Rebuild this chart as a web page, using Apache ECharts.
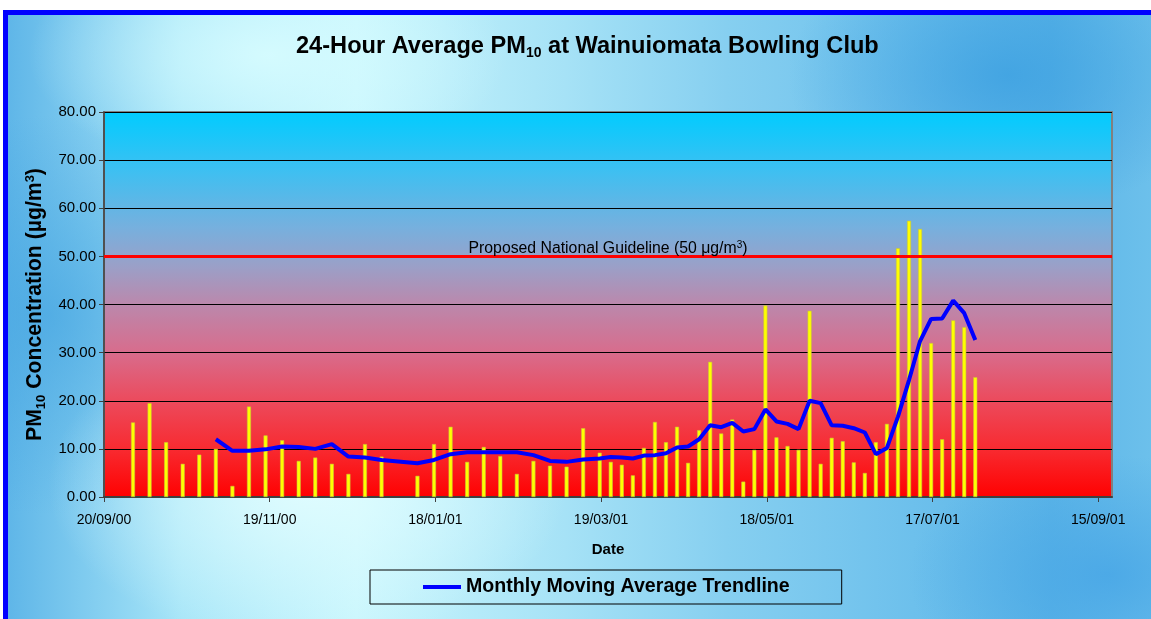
<!DOCTYPE html>
<html>
<head>
<meta charset="utf-8">
<script src="https://cdn.jsdelivr.net/npm/echarts@6/dist/echarts.min.js"></script>
<style>
  html, body { margin: 0; padding: 0; background: #ffffff; overflow: hidden; }
  #frame {
    position: absolute; left: 3px; top: 10px; width: 1160px; height: 620px;
    border-left: 5px solid #0000ff; border-top: 5px solid #0000ff;
    background:
      radial-gradient(ellipse 260px 160px at 300px 470px, rgba(225,253,255,0.95), rgba(225,253,255,0) 100%),
      radial-gradient(ellipse 240px 120px at 260px 40px, rgba(215,252,255,0.9), rgba(215,252,255,0) 100%),
      radial-gradient(ellipse 220px 140px at 1000px 60px, rgba(60,160,225,0.8), rgba(60,160,225,0) 100%),
      radial-gradient(ellipse 200px 200px at 40px 300px, rgba(70,165,225,0.7), rgba(70,165,225,0) 100%),
      radial-gradient(ellipse 200px 120px at 1100px 560px, rgba(70,165,230,0.8), rgba(70,165,230,0) 100%),
      linear-gradient(90deg, #5fb6e8 0%, #a8e6f8 15%, #c9f6fd 30%, #a6e2f6 48%, #86cff0 62%, #6dc0ec 78%, #5cb5e7 90%, #6fc2ec 100%);
  }
  #chart { position: absolute; left: 0; top: 0; width: 1151px; height: 619px; }
</style>
</head>
<body>
<div id="frame"></div>
<div id="chart"></div>
<script>
// ---- data ----
const baseDate = '2000-09-20';
const tickLabels = ['20/09/00', '19/11/00', '18/01/01', '19/03/01', '18/05/01', '17/07/01', '15/09/01'];
const sampleDates = [
  '2000-09-30','2000-10-06','2000-10-12','2000-10-18','2000-10-24','2000-10-30',
  '2000-11-05','2000-11-11','2000-11-17','2000-11-23','2000-11-29','2000-12-05',
  '2000-12-11','2000-12-17','2000-12-23','2000-12-29','2001-01-11','2001-01-17',
  '2001-01-23','2001-01-29','2001-02-04','2001-02-10','2001-02-16','2001-02-22',
  '2001-02-28','2001-03-06','2001-03-12','2001-03-18','2001-03-22','2001-03-26',
  '2001-03-30','2001-04-03','2001-04-07','2001-04-11','2001-04-15','2001-04-19',
  '2001-04-23','2001-04-27','2001-05-01','2001-05-05','2001-05-09','2001-05-13',
  '2001-05-17','2001-05-21','2001-05-25','2001-05-29','2001-06-02','2001-06-06',
  '2001-06-10','2001-06-14','2001-06-18','2001-06-22','2001-06-26','2001-06-30',
  '2001-07-04','2001-07-08','2001-07-12','2001-07-16','2001-07-20','2001-07-24',
  '2001-07-28','2001-08-01'
];
const pm10Values = [
  15.5, 19.5, 11.4, 6.9, 8.8, 10.0,
  2.3, 18.8, 12.8, 11.8, 7.5, 8.2,
  6.9, 4.8, 11.0, 8.4, 4.4, 11.0,
  14.6, 7.3, 10.4, 8.5, 4.8, 7.5,
  6.5, 6.3, 14.3, 9.2, 7.3, 6.7,
  4.5, 10.2, 15.6, 11.4, 14.6, 7.1,
  13.9, 28.1, 13.2, 16.1, 3.2, 9.8,
  39.8, 12.4, 10.6, 9.8, 38.7, 6.9,
  12.3, 11.6, 7.2, 5.0, 11.4, 15.2,
  51.7, 57.4, 55.7, 32.0, 12.0, 36.7,
  35.3, 24.9
];
// monthly moving average (starts at 6th sample: 2000-10-30)
const trendStartIndex = 5;
const trendValues = [
  12.0, 9.6, 9.6, 9.9, 10.5, 10.4, 10.0,
  11.0, 8.4, 8.2, 7.7, 7.0, 7.7,
  8.9, 9.3, 9.3, 9.3, 9.3, 8.7,
  7.5, 7.3, 7.8, 8.0, 8.3, 8.2,
  8.0, 8.6, 8.7, 9.1, 10.3, 10.5,
  12.0, 14.9, 14.5, 15.4, 13.6, 14.1,
  18.2, 15.7, 15.2, 14.1, 20.0, 19.5,
  14.9, 14.8, 14.3, 13.4, 8.9, 10.2,
  16.7, 24.3, 32.4, 37.0, 37.1, 40.8,
  38.2, 32.6
];
const guidelineValue = 50;

// ---- helpers ----
const DAY = 86400000;
const base = Date.parse(baseDate + 'T00:00:00Z');
// Excel date axis: each date sits in the middle of its one-day slot
function dayPos(s) { return (Date.parse(s + 'T00:00:00Z') - base) / DAY + 0.5; }
function fmtTick(v) {
  const i = Math.round(v / 60);
  if (Math.abs(v - i * 60) > 0.01) return '';
  return tickLabels[i] || '';
}
const barData = sampleDates.map((d, i) => [dayPos(d), pm10Values[i]]);
const lineData = trendValues.map((v, i) => [dayPos(sampleDates[trendStartIndex + i]), v]);

const chart = echarts.init(document.getElementById('chart'), null, { renderer: 'canvas' });
const FONT = 'Liberation Sans, Arial, sans-serif';

chart.setOption({
  backgroundColor: 'transparent',
  animation: false,
  textStyle: { fontFamily: FONT },
  title: {
    text: '{a|24-Hour Average PM}{s|10}{a| at Wainuiomata Bowling Club}',
    left: 291, top: 27,
    textStyle: {
      rich: {
        a: { fontFamily: FONT, fontSize: 23.6, fontWeight: 'bold', color: '#000', lineHeight: 28 },
        s: { fontFamily: FONT, fontSize: 14, fontWeight: 'bold', color: '#000', lineHeight: 12, verticalAlign: 'bottom' }
      }
    }
  },
  legend: {
    left: 370, top: 570,
    padding: [7, 52, 7, 53],
    borderColor: '#000', borderWidth: 1,
    icon: 'rect', itemWidth: 38, itemHeight: 4,
    textStyle: { fontFamily: FONT, fontSize: 19.6, fontWeight: 'bold', color: '#000' },
    data: ['Monthly Moving Average Trendline']
  },
  grid: {
    left: 104, right: 39, top: 112, bottom: 122,
    show: true,
    borderColor: '#808080', borderWidth: 2,
    backgroundColor: new echarts.graphic.LinearGradient(0, 0, 0, 1, [
      { offset: 0, color: '#00ccff' },
      { offset: 0.15, color: '#3cc0f2' },
      { offset: 0.3, color: '#76b0de' },
      { offset: 0.4, color: '#9aa0c8' },
      { offset: 0.5, color: '#bb88ac' },
      { offset: 0.625, color: '#d86c8c' },
      { offset: 0.75, color: '#ec4a5c' },
      { offset: 0.875, color: '#f82a30' },
      { offset: 1, color: '#ff0000' }
    ])
  },
  xAxis: {
    type: 'value',
    min: 0, max: 365, interval: 60,
    name: 'Date', nameLocation: 'middle', nameGap: 45,
    nameTextStyle: { fontFamily: FONT, fontSize: 15, fontWeight: 'bold', color: '#000' },
    axisLine: { show: true, lineStyle: { color: '#404040', width: 2 } },
    axisTick: { show: true, length: 5, lineStyle: { color: '#404040' } },
    axisLabel: { formatter: fmtTick, showMaxLabel: false, margin: 16, fontFamily: FONT, fontSize: 14, color: '#000' },
    splitLine: { show: false }
  },
  yAxis: {
    type: 'value',
    min: 0, max: 80, interval: 10,
    name: '{a|PM}{s|10}{a| Concentration (µg/m}{p|3}{a|)}',
    nameLocation: 'middle', nameRotate: 90, nameGap: 53,
    nameTextStyle: {
      rich: {
        a: { fontFamily: FONT, fontSize: 21.2, fontWeight: 'bold', color: '#000', lineHeight: 24 },
        s: { fontFamily: FONT, fontSize: 13, fontWeight: 'bold', color: '#000', lineHeight: 11, verticalAlign: 'bottom' },
        p: { fontFamily: FONT, fontSize: 13, fontWeight: 'bold', color: '#000', lineHeight: 12, verticalAlign: 'top' }
      }
    },
    axisLine: { show: true, lineStyle: { color: '#404040', width: 1.5 } },
    axisTick: { show: true, length: 5, lineStyle: { color: '#404040' } },
    axisLabel: { formatter: v => v.toFixed(2), margin: 8, fontFamily: FONT, fontSize: 15, color: '#000' },
    splitLine: { show: true, lineStyle: { color: '#000', width: 1 } }
  },
  series: [
    {
      name: 'PM10',
      type: 'bar',
      data: barData,
      barWidth: 4,
      itemStyle: { color: '#ffff00', borderColor: '#c8c43c', borderWidth: 0.6 },
      z: 2,
      markLine: {
        silent: true,
        symbol: 'none',
        lineStyle: { color: '#ff0000', width: 3, type: 'solid' },
        label: {
          show: true,
          position: 'insideMiddleTop',
          distance: 0,
          formatter: '{a|Proposed National Guideline (50 μg/m}{p|3}{a|)}',
          rich: {
            a: { fontFamily: FONT, fontSize: 15.8, color: '#000', lineHeight: 16 },
            p: { fontFamily: FONT, fontSize: 10, color: '#000', lineHeight: 8, verticalAlign: 'top' }
          }
        },
        data: [{ yAxis: guidelineValue }]
      }
    },
    {
      name: 'Monthly Moving Average Trendline',
      type: 'line',
      data: lineData,
      showSymbol: false,
      symbol: 'none',
      lineStyle: { color: '#0000ff', width: 4 },
      itemStyle: { color: '#0000ff' },
      z: 3
    }
  ]
});
</script>
</body>
</html>
